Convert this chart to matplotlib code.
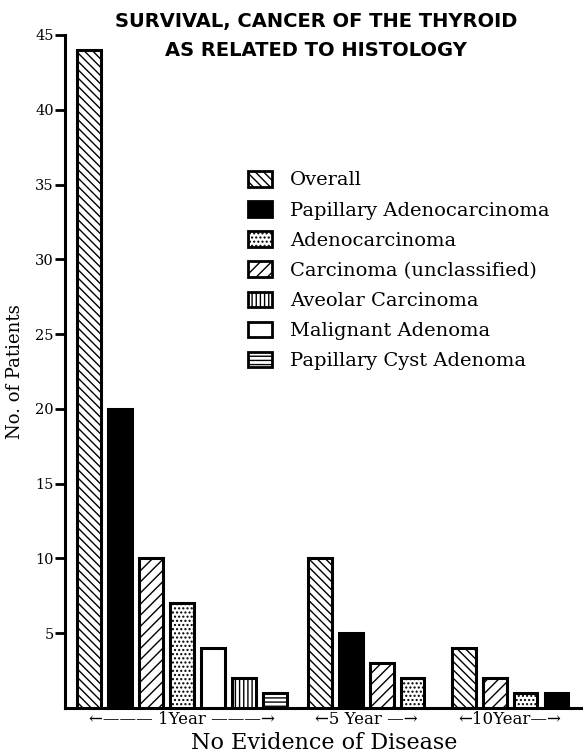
import matplotlib
matplotlib.use("Agg")
import matplotlib.pyplot as plt
from matplotlib.patches import Patch

# ---------------- data ----------------
title_text = "SURVIVAL, CANCER OF THE THYROID\nAS RELATED TO HISTOLOGY"
y_label = "No. of Patients"
x_label = "No Evidence of Disease"
group_labels = ["←——— 1Year ———→", "←5 Year —→", "←10Year—→"]

legend_series = ["Overall", "Papillary Adenocarcinoma", "Adenocarcinoma",
                 "Carcinoma (unclassified)", "Aveolar Carcinoma",
                 "Malignant Adenoma", "Papillary Cyst Adenoma"]

year1_series = ["Overall", "Papillary Adenocarcinoma", "Carcinoma (unclassified)",
                "Adenocarcinoma", "Malignant Adenoma", "Aveolar Carcinoma",
                "Papillary Cyst Adenoma"]
year1_values = [44, 20, 10, 7, 4, 2, 1]

year5_series = ["Overall", "Papillary Adenocarcinoma", "Carcinoma (unclassified)",
                "Adenocarcinoma"]
year5_values = [10, 5, 3, 2]

year10_series = ["Overall", "Carcinoma (unclassified)", "Adenocarcinoma",
                 "Papillary Adenocarcinoma"]
year10_values = [4, 2, 1, 1]

y_ticks = [5, 10, 15, 20, 25, 30, 35, 40, 45]

# ---------------- styles ----------------
styles = {
    "Overall": dict(facecolor="white", hatch="\\\\\\\\"),
    "Papillary Adenocarcinoma": dict(facecolor="black", hatch=None),
    "Adenocarcinoma": dict(facecolor="white", hatch="...."),
    "Carcinoma (unclassified)": dict(facecolor="white", hatch="///"),
    "Aveolar Carcinoma": dict(facecolor="white", hatch="||||"),
    "Malignant Adenoma": dict(facecolor="white", hatch=None),
    "Papillary Cyst Adenoma": dict(facecolor="white", hatch="----"),
}

plt.rcParams["hatch.linewidth"] = 1.0
plt.rcParams["hatch.color"] = "black"

W, H = 583, 755
fig = plt.figure(figsize=(W / 100, H / 100), dpi=100)
ax = fig.add_axes([65 / W, 1 - 708 / H, 1 - 65 / W, (708 - 35) / H])

group_starts = [0.0, 7.45, 12.1]
bar_width = 0.76
groups = [(year1_series, year1_values), (year5_series, year5_values),
          (year10_series, year10_values)]

centers = []
for start, (names, vals) in zip(group_starts, groups):
    xs = [start + i for i in range(len(vals))]
    for x, name, v in zip(xs, names, vals):
        st = styles[name]
        ax.bar(x, v, width=bar_width, facecolor=st["facecolor"],
               hatch=st["hatch"], edgecolor="black", linewidth=2.2, zorder=3)
    centers.append((xs[0] + xs[-1]) / 2)

ax.set_xlim(-0.78, 15.95)
ax.set_ylim(0, 45)

for s in ["top", "right"]:
    ax.spines[s].set_visible(False)
ax.spines["left"].set_linewidth(2.2)
ax.spines["bottom"].set_linewidth(2.2)

serif = ["DejaVu Serif"]
ax.set_yticks(y_ticks)
ax.set_yticklabels([str(t) for t in y_ticks], fontsize=10.5, family=serif)
ax.tick_params(axis="y", direction="out", length=7, width=2, pad=1)

ax.set_xticks(centers)
ax.set_xticklabels(group_labels, fontsize=12, family=serif)
ax.tick_params(axis="x", length=0, pad=2)

ax.set_ylabel(y_label, fontsize=13, family=serif, labelpad=8)
ax.set_xlabel(x_label, fontsize=16, family=serif, labelpad=3)

fig.text(316 / W, 1 - 36 / H, title_text, ha="center", va="center",
         fontsize=14, fontweight="bold", family=["DejaVu Sans"],
         linespacing=1.65)

handles = [Patch(facecolor=styles[n]["facecolor"], hatch=styles[n]["hatch"],
                 edgecolor="black", linewidth=2.0) for n in legend_series]
leg = ax.legend(handles, legend_series, loc="upper left",
                bbox_to_anchor=(248 / W, 1 - 171 / H),
                bbox_transform=fig.transFigure, frameon=False,
                prop={"family": "DejaVu Serif", "size": 14},
                handlelength=1.24, handleheight=0.85, labelspacing=0.6,
                handletextpad=0.93, borderpad=0, borderaxespad=0)

fig.savefig("out.png", dpi=100)
